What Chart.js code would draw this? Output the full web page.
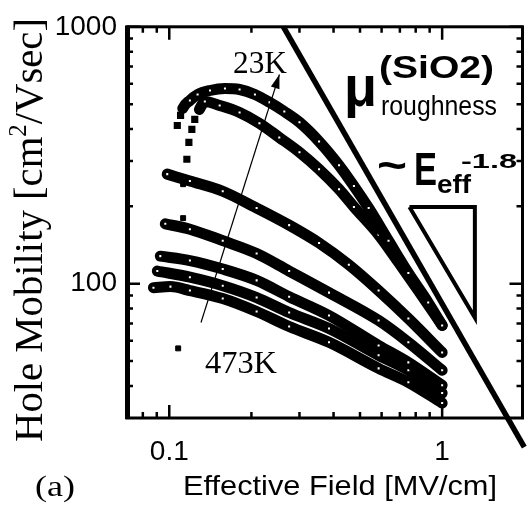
<!DOCTYPE html>
<html><head><meta charset="utf-8">
<script src="https://cdn.jsdelivr.net/npm/chart.js@4.4.1/dist/chart.umd.min.js"></script>
<style>html,body{margin:0;padding:0;background:#fff;}#wrap{width:528px;height:510px;}</style>
</head><body><div id="wrap"><canvas id="c" width="528" height="510"></canvas></div>
<script>
// ---- data (x: effective field MV/cm, y: hole mobility cm2/Vs) ----
const xA = [0.107, 0.110, 0.112, 0.119, 0.127, 0.141, 0.160, 0.181, 0.206, 0.233, 0.264, 0.300, 0.354, 0.419, 0.475, 0.538, 0.636, 0.752, 0.889, 1.0];
const yA = [413, 452, 481, 517, 545, 565, 575, 570, 545, 508, 468, 425, 358, 289, 240, 197, 147, 110, 84.4, 68.8];
const xB = [0.116, 0.118, 0.121, 0.124, 0.129, 0.135, 0.153, 0.181, 0.214, 0.253, 0.300, 0.354, 0.419, 0.475, 0.585, 0.692, 0.818, 1.0];
const yB = [305, 355, 399, 436, 477, 512, 494, 464, 421, 371, 325, 279, 233, 199, 155, 121, 94.0, 68.8];
const xC = [0.0983, 0.119, 0.157, 0.209, 0.275, 0.354, 0.455, 0.585, 0.752, 1.0];
const yC = [267, 251, 229, 197, 169, 144, 118.5, 94.0, 73.2, 54.0];
const xD = [0.0967, 0.119, 0.157, 0.209, 0.275, 0.385, 0.585, 0.752, 1.0];
const yD = [171, 163, 147, 131, 112, 92.3, 71.9, 59.1, 46.0];
const xE = [0.0927, 0.119, 0.157, 0.209, 0.275, 0.385, 0.585, 0.752, 1.0];
const yE = [128, 123, 114, 103, 89.0, 75.2, 57.5, 49.4, 40.2];
const xF = [0.0904, 0.119, 0.157, 0.209, 0.275, 0.385, 0.585, 0.752, 1.0];
const yF = [112, 106, 98.2, 88.3, 77.2, 66.9, 52.6, 46.0, 37.5];
const xG = [0.0875, 0.101, 0.119, 0.157, 0.209, 0.275, 0.385, 0.585, 0.752, 1.0];
const yG = [96.5, 97.4, 94.0, 87.5, 77.9, 68.1, 59.1, 46.8, 41.3, 34.3];
const xStray = [0.1078, 0.1124, 0.1124];
const yStray = [56.0, 244, 180];
// roughness-limited mobility line (~E^-1.8) and slope triangle
const roughX = [0.262, 2.0];
const roughY = [1000, 23.1];
const triX = [0.759, 1.318, 1.318, 0.759];
const triY = [199, 199, 73.8, 199];
// temperature arrow (473K -> 23K)
const arrowX = [0.1307, 0.2533];
const arrowY = [70.6, 652];
// axes
const xTickValues = [0.1, 1];
const xTickLabels = ['0.1', '1'];
const yTickValues = [100, 1000];
const yTickLabels = ['100', '1000'];
const xMinor = [0.08, 0.09, 0.2, 0.3, 0.4, 0.5, 0.6, 0.7, 0.8, 0.9];
const yMinor = [40, 50, 60, 70, 80, 90, 200, 300, 400, 500, 600, 700, 800, 900];

const pts = (xs, ys) => xs.map((x, i) => ({x: x, y: ys[i]}));

function curve(xs, ys, nSep) {
  return {
    data: pts(xs, ys), showLine: true, borderColor: '#000', borderWidth: 11,
    tension: 0.4, cubicInterpolationMode: 'monotone', borderJoinStyle: 'round', borderCapStyle: 'round',
    pointStyle: 'rect',
    pointRadius: xs.map((_, i) => i < nSep ? 4 : 2.5),
    pointBackgroundColor: xs.map((_, i) => i < nSep ? '#000' : '#fff'),
    pointBorderColor: '#000', pointBorderWidth: 1.5,
    segment: { borderColor: c => c.p0DataIndex < nSep - 1 ? 'rgba(0,0,0,0)' : '#000' }
  };
}

const SERIF = '"Liberation Serif", "Times New Roman", serif';
const SANS = '"Liberation Sans", Arial, sans-serif';

function fitText(ctx, txt, x, y, font, w) {
  ctx.save();
  ctx.font = font;
  const m = ctx.measureText(txt).width;
  ctx.translate(x, y);
  ctx.scale(w / m, 1);
  ctx.textAlign = 'left'; ctx.textBaseline = 'alphabetic';
  ctx.fillStyle = '#000';
  ctx.fillText(txt, 0, 0);
  ctx.restore();
}

const decor = {
  id: 'decor',
  beforeDatasetsDraw(chart) {
    const {ctx, chartArea: a, scales: {x, y}} = chart;
    ctx.save();
    ctx.strokeStyle = '#000'; ctx.lineWidth = 3;
    ctx.strokeRect(a.left, a.top, a.right - a.left, a.bottom - a.top);
    ctx.lineWidth = 5;
    ctx.beginPath(); ctx.moveTo(a.left + 0.5, a.top - 1); ctx.lineTo(a.left + 0.5, a.bottom + 1); ctx.stroke();
    ctx.lineWidth = 2.5;
    ctx.beginPath();
    const tickX = (v, len) => { const p = x.getPixelForValue(v);
      ctx.moveTo(p, a.bottom); ctx.lineTo(p, a.bottom - len);
      ctx.moveTo(p, a.top); ctx.lineTo(p, a.top + len); };
    const tickY = (v, len) => { const p = y.getPixelForValue(v);
      ctx.moveTo(a.left, p); ctx.lineTo(a.left + len, p);
      ctx.moveTo(a.right, p); ctx.lineTo(a.right - len, p); };
    xMinor.forEach(v => tickX(v, 6));
    xTickValues.forEach(v => tickX(v, 13));
    yMinor.forEach(v => tickY(v, 6));
    yTickValues.forEach(v => tickY(v, 13));
    ctx.stroke();
    ctx.restore();
  },
  afterDatasetsDraw(chart) {
    const {ctx, scales: {x, y}} = chart;
    const x0 = x.getPixelForValue(arrowX[0]), y0 = y.getPixelForValue(arrowY[0]);
    const x1 = x.getPixelForValue(arrowX[1]), y1 = y.getPixelForValue(arrowY[1]);
    const ang = Math.atan2(y1 - y0, x1 - x0);
    const L = 14, W = 4.5;
    ctx.save();
    ctx.fillStyle = '#000';
    ctx.beginPath();
    ctx.moveTo(x1, y1);
    ctx.lineTo(x1 - L * Math.cos(ang) - W * Math.sin(ang), y1 - L * Math.sin(ang) + W * Math.cos(ang));
    ctx.lineTo(x1 - L * Math.cos(ang) + W * Math.sin(ang), y1 - L * Math.sin(ang) - W * Math.cos(ang));
    ctx.closePath(); ctx.fill();
    ctx.restore();
  },
  afterDraw(chart) {
    const ctx = chart.ctx;
    fitText(ctx, '23K', 233, 73, '31px ' + SERIF, 54);
    fitText(ctx, '473K', 205, 373, '31px ' + SERIF, 72);
    fitText(ctx, '(a)', 35, 496, '30px ' + SERIF, 40);
    fitText(ctx, '(SiO2)', 379, 78, 'bold 31px ' + SANS, 115);
    fitText(ctx, 'μ', 344, 106, 'bold 58px ' + SANS, 33);
    fitText(ctx, 'roughness', 381, 115, '27px ' + SANS, 116);
    fitText(ctx, '~', 377, 180, 'bold 44px ' + SANS, 30);
    fitText(ctx, 'E', 414, 185, 'bold 46px ' + SANS, 23);
    fitText(ctx, 'eff', 437, 193, 'bold 25px ' + SANS, 34);
    fitText(ctx, '-1.8', 461, 168, 'bold 21px ' + SANS, 56);
    fitText(ctx, 'Effective Field [MV/cm]', 183, 495, '28px ' + SANS, 314);
    ctx.save();
    ctx.translate(42, 442);
    ctx.rotate(-Math.PI / 2);
    const big = '41px ' + SERIF, small = '25px ' + SERIF;
    const p1 = 'Hole Mobility [cm', p2 = '2', p3 = '/Vsec]';
    ctx.font = big; const w1 = ctx.measureText(p1).width, w3 = ctx.measureText(p3).width;
    ctx.font = small; const w2 = ctx.measureText(p2).width;
    const tot = w1 + w2 + w3;
    ctx.scale(424 / tot, 1);
    ctx.fillStyle = '#000'; ctx.textBaseline = 'alphabetic'; ctx.textAlign = 'left';
    ctx.font = big; ctx.fillText(p1, 0, 0);
    ctx.font = small; ctx.fillText(p2, w1, -16);
    ctx.font = big; ctx.fillText(p3, w1 + w2, 0);
    ctx.restore();
  }
};

new Chart(document.getElementById('c'), {
  type: 'scatter',
  data: {
    datasets: [
      {data: pts(roughX, roughY), showLine: true, borderColor: '#000', borderWidth: 5.5, pointRadius: 0, clip: false, tension: 0},
      {data: pts(triX, triY), showLine: true, borderColor: '#000', borderWidth: 4, pointRadius: 0, tension: 0, borderJoinStyle: 'miter'},
      {data: pts(arrowX, arrowY), showLine: true, borderColor: '#000', borderWidth: 1.2, pointRadius: 0, tension: 0},
      curve(xA, yA, 3),
      curve(xB, yB, 5),
      curve(xC, yC, 0),
      curve(xD, yD, 0),
      curve(xE, yE, 0),
      curve(xF, yF, 0),
      curve(xG, yG, 0),
      {data: pts(xStray, yStray), showLine: false, pointStyle: 'rect', pointRadius: 3.5, pointBackgroundColor: '#000', pointBorderColor: '#000'}
    ]
  },
  options: {
    responsive: false, animation: false, devicePixelRatio: 1,
    layout: {padding: {left: 0, right: 3, top: 25, bottom: 0}},
    plugins: {legend: {display: false}, tooltip: {enabled: false}},
    scales: {
      x: {
        type: 'logarithmic', position: 'bottom', min: 0.07, max: 1.97,
        grid: {display: false, drawTicks: false}, border: {display: false},
        afterBuildTicks: s => { s.ticks = xTickValues.map(v => ({value: v})); },
        afterFit: s => { s.height = 92; },
        ticks: {autoSkip: false, maxRotation: 0, padding: 17, color: '#000',
          font: {family: SANS, size: 28},
          callback: v => xTickLabels[xTickValues.indexOf(v)]}
      },
      y: {
        type: 'logarithmic', min: 30, max: 1000,
        grid: {display: false, drawTicks: false}, border: {display: false},
        afterBuildTicks: s => { s.ticks = yTickValues.map(v => ({value: v})); },
        afterFit: s => { s.width = 127; },
        ticks: {autoSkip: false, padding: 10, color: '#000',
          font: {family: SANS, size: 28},
          callback: v => yTickLabels[yTickValues.indexOf(v)]}
      }
    }
  },
  plugins: [decor]
});
</script></body></html>
